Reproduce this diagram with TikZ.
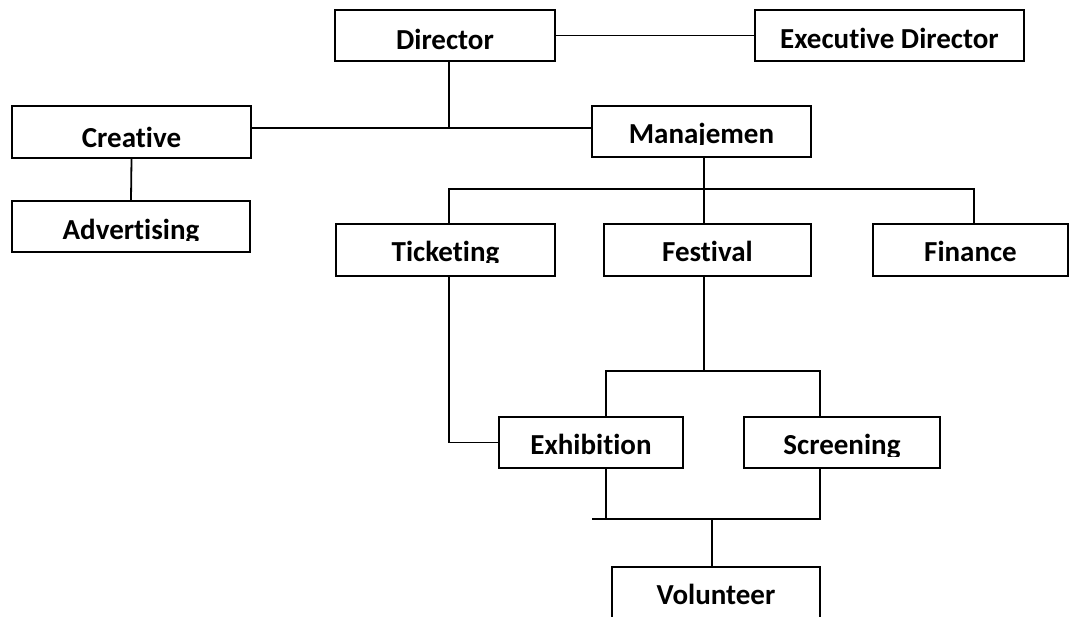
\documentclass[tikz,border=0pt]{standalone}
\usepackage{fontspec}
\setmainfont{Carlito}[Ligatures=NoCommon]
\usetikzlibrary{calc}
\begin{document}
\begin{tikzpicture}[x=1pt,y=-1pt,
  box/.style={draw=black, line width=2pt, rectangle, inner sep=0pt, fill=white},
  lbl/.style={anchor=base, inner sep=0pt, font=\fontsize{29}{34}\selectfont\bfseries},
  conn/.style={draw=black, line width=1.8pt}]
\clip (0,0) rectangle (1072,617);
\fill[white] (0,0) rectangle (1072,617);

% boxes
\node[box, minimum width=220, minimum height=51] (dir)  at (445,35.5) {};
\node[box, minimum width=269, minimum height=51] (exec) at (889.5,35.5) {};
\node[box, minimum width=239, minimum height=52] (cre)  at (131.5,132) {};
\node[box, minimum width=238, minimum height=51] (adv)  at (131,226.5) {};
\node[box, minimum width=219, minimum height=51] (man)  at (701.5,131.5) {};
\node[box, minimum width=219, minimum height=52] (tic)  at (445.5,250) {};
\node[box, minimum width=207, minimum height=52] (fes)  at (707.5,250) {};
\node[box, minimum width=195, minimum height=52] (fin)  at (970.5,250) {};
\node[box, minimum width=184, minimum height=51] (exh)  at (591,442.5) {};
\node[box, minimum width=196, minimum height=51] (scr)  at (842,442.5) {};
\node[box, minimum width=208, minimum height=83] (vol)  at (716,608.5) {};

% labels
\node[lbl] (tdir)  at (445,50)    {Director};
\node[lbl] (texec) at (889.5,49)  {Executive Director};
\node[lbl] (tcre)  at (131.5,148) {Creative};
\begin{scope}\clip (12,201) rectangle (250,241);
  \node[lbl] (tadv) at (131,240) {Advertising};
\end{scope}
\begin{scope}\clip (592,106) rectangle (811,145);
  \node[lbl] (tman) at (701.5,144) {Manajemen};
\end{scope}
\begin{scope}\clip (336,224) rectangle (555,263);
  \node[lbl] (ttic) at (445.5,262) {Ticketing};
\end{scope}
\node[lbl] (tfes) at (707.5,262) {Festival};
\node[lbl] (tfin) at (970.5,262) {Finance};
\node[lbl] (texh) at (591,455)   {Exhibition};
\begin{scope}\clip (744,417) rectangle (940,457);
  \node[lbl] (tscr) at (842,455) {Screening};
\end{scope}
\node[lbl] (tvol) at (716,605) {Volunteer};

% connectors
\coordinate (jd) at (449,128);
\coordinate (jm) at (704,189);
\coordinate (xl) at (449,0);
\coordinate (xr) at (974,0);
\coordinate (jf) at (704,371);
\coordinate (xe) at (606,0);
\coordinate (xs) at (820,0);
\coordinate (jb) at (712,519);
\coordinate (xb) at (592,519);

\draw[conn] (dir.east) -- (exec.west);
\draw[conn] (dir.south -| jd) -- (jd);
\draw[conn] (cre.east |- jd) -- (man.west |- jd);
\draw[conn] (cre.south) -- (adv.north);
\draw[conn] (man.south -| jm) -- (fes.north -| jm);
\draw[conn] (tic.north -| xl) |- (jm) -| (fin.north -| xr);
\draw[conn] (tic.south -| xl) |- (exh.west);
\draw[conn] (fes.south -| jf) -- (jf);
\draw[conn] (exh.north -| xe) |- (jf) -| (scr.north -| xs);
\draw[conn] (exh.south -| xe) -- (xe |- jb);
\draw[conn] (xb) -- (xs |- jb) -- (scr.south -| xs);
\draw[conn] (jb) -- (vol.north -| jb);
\end{tikzpicture}
\end{document}
